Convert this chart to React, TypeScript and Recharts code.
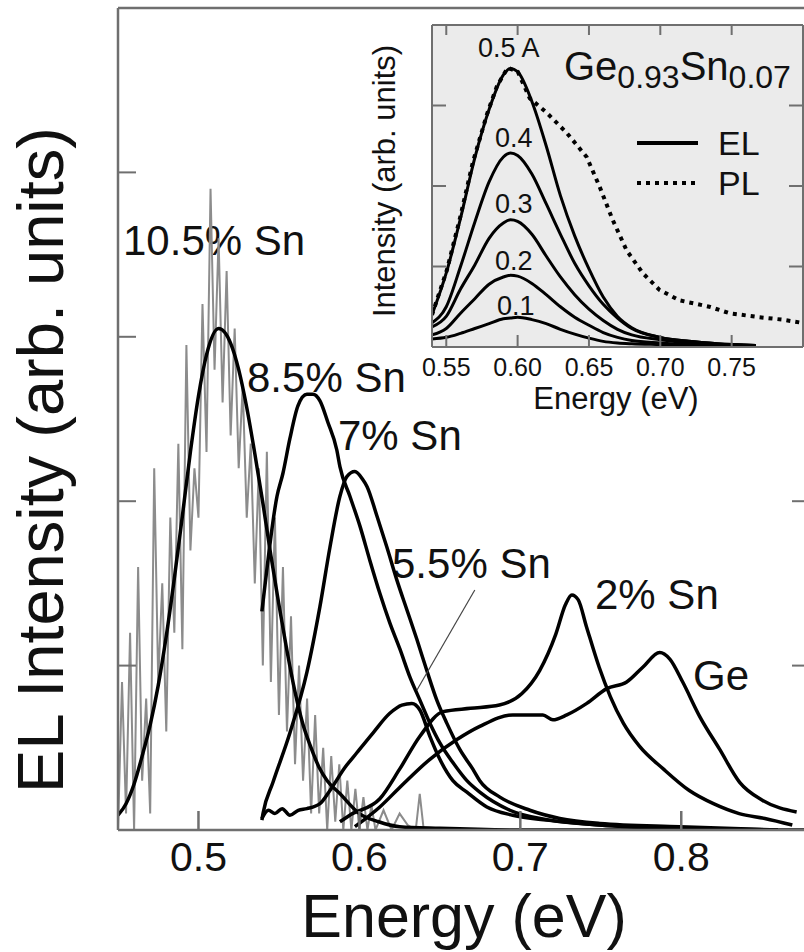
import { LineChart, Line, XAxis, YAxis, CartesianGrid, ReferenceLine } from 'recharts'

const FONT = '"Liberation Sans", Arial, Helvetica, sans-serif'
const AXIS = '#6f6f6f'

// ---- main panel: EL spectra, energy (eV) vs intensity (arb. units)
const mainTicks = [0.5, 0.6, 0.7, 0.8]
const mainYTicks = [1, 2, 3, 4]

// 10.5% Sn raw spectrum (noisy, grey)
const sn105RawE = [
  0.45, 0.4525, 0.455, 0.4575, 0.46, 0.4625, 0.465, 0.4675, 0.47, 0.4725, 0.475, 0.4775, 0.48, 0.4825,
  0.485, 0.4875, 0.49, 0.4925, 0.495, 0.4975, 0.5, 0.5025, 0.505, 0.5075, 0.51, 0.5125, 0.515, 0.5175,
  0.52, 0.5225, 0.525, 0.5275, 0.53, 0.5325, 0.535, 0.5375, 0.54, 0.5425, 0.545, 0.5475, 0.55, 0.5525,
  0.555, 0.5575, 0.56, 0.5625, 0.565, 0.5675, 0.57, 0.5725, 0.575, 0.5775, 0.58, 0.5825, 0.585, 0.5875,
  0.59, 0.5925, 0.595, 0.5975, 0.6, 0.6025, 0.605, 0.6075, 0.61, 0.615, 0.62, 0.625, 0.63, 0.635, 0.6375,
  0.64,
]
const sn105RawI = [
  0.0, 0.9, 0.1, 1.2, 0.0, 1.6, 0.3, 0.8, 0.1, 2.2, 0.9, 1.5, 0.6, 1.9,
  1.2, 2.35, 1.1, 2.95, 1.7, 2.2, 1.9, 3.2, 2.3, 3.9, 2.8, 3.6, 2.6, 3.4,
  2.4, 3.05, 2.2, 2.7, 1.9, 2.35, 1.5, 2.2, 1.0, 2.3, 0.9, 1.9, 0.7, 1.6,
  0.6, 1.3, 0.4, 1.0, 0.3, 0.8, 0.1, 0.7, 0.1, 0.5, 0.0, 0.45, 0.05, 0.4,
  0.0, 0.3, 0.0, 0.25, 0.0, 0.2, 0.0, 0.15, 0.0, 0.12, 0.0, 0.1, 0.03, 0.0, 0.22,
  0.0,
]

// 10.5% Sn fitted curve
const sn105FitE = [
  0.45, 0.455, 0.46, 0.465, 0.47, 0.475, 0.48, 0.485, 0.49, 0.495, 0.5, 0.505, 0.5125, 0.52, 0.525,
  0.53, 0.535, 0.54, 0.545, 0.55, 0.555, 0.56, 0.565, 0.57, 0.575, 0.58, 0.588, 0.6, 0.612, 0.625,
  0.65, 0.7, 0.88,
]
const sn105FitI = [
  0.09, 0.16, 0.28, 0.45, 0.64, 0.88, 1.18, 1.53, 1.91, 2.3, 2.64, 2.89, 3.05, 2.96, 2.8,
  2.57, 2.29, 1.99, 1.67, 1.37, 1.09, 0.84, 0.64, 0.5, 0.38, 0.3, 0.22, 0.1, 0.05, 0.02,
  0.01, 0.0, 0.0,
]

const sn85E = [
  0.5394, 0.5405, 0.5488, 0.5525, 0.5568, 0.5618, 0.5674, 0.5711, 0.5755, 0.5804, 0.586, 0.5879,
  0.5941, 0.6003, 0.6065, 0.6127, 0.6189, 0.6252, 0.6314, 0.6376, 0.6438, 0.65, 0.6581, 0.6668,
  0.6748, 0.6935, 0.7183, 0.7494, 0.7991, 0.86,
]
const sn85I = [
  1.33, 1.42, 2.03, 2.17, 2.38, 2.58, 2.65, 2.65, 2.61, 2.48, 2.31, 2.21,
  2.03, 1.85, 1.64, 1.44, 1.26, 1.1, 0.93, 0.79, 0.65, 0.53, 0.41, 0.3,
  0.23, 0.12, 0.06, 0.03, 0.01, 0.0,
]

const sn7E = [
  0.5394, 0.5401, 0.5463, 0.5568, 0.5674, 0.5755, 0.5817, 0.5879, 0.5922, 0.5972, 0.6022, 0.6047,
  0.6109, 0.6171, 0.6233, 0.6295, 0.6357, 0.6419, 0.6481, 0.6543, 0.6624, 0.6705, 0.6748, 0.6873,
  0.7059, 0.7245, 0.7494, 0.7991, 0.86,
]
const sn7I = [
  0.06, 0.1, 0.29, 0.59, 0.96, 1.36, 1.72, 2.03, 2.15, 2.18, 2.13, 2.09,
  1.91, 1.72, 1.52, 1.34, 1.16, 0.97, 0.79, 0.65, 0.49, 0.37, 0.3, 0.2,
  0.12, 0.07, 0.04, 0.02, 0.0,
]

const sn55E = [
  0.5394, 0.5435, 0.5475, 0.552, 0.5568, 0.562, 0.5674, 0.5755, 0.5817, 0.591, 0.5984, 0.6084,
  0.6189, 0.6264, 0.6326, 0.6376, 0.6438, 0.65, 0.6581, 0.6668, 0.6792, 0.6953, 0.7165, 0.7494,
  0.7991, 0.86,
]
const sn55I = [
  0.07, 0.12, 0.1, 0.13, 0.09, 0.12, 0.13, 0.16, 0.24, 0.38, 0.47, 0.59,
  0.71, 0.76, 0.77, 0.73, 0.57, 0.43, 0.3, 0.23, 0.14, 0.09, 0.06, 0.03,
  0.01, 0.0,
]

const sn2E = [
  0.5879, 0.594, 0.6127, 0.625, 0.6376, 0.652, 0.669, 0.687, 0.701, 0.712, 0.722, 0.728, 0.732,
  0.736, 0.741, 0.749, 0.756, 0.764, 0.774, 0.789, 0.805, 0.82, 0.836, 0.852, 0.869,
]
const sn2I = [
  0.05, 0.09, 0.19, 0.37, 0.57, 0.72, 0.74, 0.76, 0.83, 0.97, 1.19, 1.37, 1.43,
  1.4, 1.24, 0.99, 0.81, 0.65, 0.51, 0.37, 0.24, 0.16, 0.1, 0.07, 0.03,
]

const geE = [
  0.5972, 0.6127, 0.6252, 0.6438, 0.6606, 0.6748, 0.6953, 0.714, 0.7202, 0.7289, 0.7413, 0.7537,
  0.7661, 0.7761, 0.7866, 0.7929, 0.8009, 0.8115, 0.8239, 0.8363, 0.8506, 0.8717,
]
const geI = [
  0.02, 0.14, 0.26, 0.43, 0.55, 0.63, 0.7, 0.7, 0.67, 0.7, 0.77, 0.86,
  0.9, 0.99, 1.08, 1.04, 0.9, 0.69, 0.49, 0.29, 0.18, 0.11,
]

// ---- inset: Ge0.93Sn0.07 EL at several currents, and PL
const insetTicks = [0.55, 0.6, 0.65, 0.7, 0.75]
const insetYTicks = [1, 2, 3]
const elE = [
  0.54, 0.55, 0.56, 0.57, 0.58, 0.59, 0.595, 0.6, 0.61, 0.62, 0.63, 0.64, 0.65, 0.66, 0.67, 0.68,
  0.7, 0.72, 0.74, 0.767,
]
const el05 = [0.4, 0.92, 1.6, 2.35, 2.95, 3.38, 3.46, 3.42, 3.05, 2.5, 1.88, 1.38, 0.97, 0.62, 0.38, 0.24, 0.12, 0.07, 0.04, 0.02]
const el04 = [0.3, 0.5, 1.0, 1.55, 2.05, 2.36, 2.41, 2.38, 2.15, 1.78, 1.4, 1.04, 0.76, 0.53, 0.36, 0.23, 0.12, 0.07, 0.04, 0.02]
const el03 = [0.25, 0.38, 0.72, 1.02, 1.35, 1.54, 1.58, 1.56, 1.4, 1.13, 0.87, 0.65, 0.47, 0.33, 0.22, 0.15, 0.09, 0.05, 0.03, 0.02]
const el02 = [0.15, 0.23, 0.42, 0.6, 0.78, 0.87, 0.89, 0.88, 0.79, 0.65, 0.5, 0.37, 0.27, 0.18, 0.12, 0.08, 0.05, 0.03, 0.02, 0.01]
const el01 = [0.1, 0.12, 0.17, 0.23, 0.29, 0.35, 0.36, 0.37, 0.34, 0.29, 0.22, 0.16, 0.11, 0.07, 0.05, 0.04, 0.03, 0.02, 0.01, 0.01]
const elCurrents = ['0.5 A', '0.4', '0.3', '0.2', '0.1']

const plE = [
  0.54, 0.5505, 0.5596, 0.5687, 0.5785, 0.5855, 0.5931, 0.6001, 0.6085, 0.6204, 0.6344, 0.6484,
  0.6575, 0.6666, 0.6764, 0.6876, 0.6994, 0.7134, 0.7344, 0.7484, 0.7694, 0.7855, 0.7994,
]
const plI = [
  0.4, 0.96, 1.6, 2.3, 2.89, 3.24, 3.47, 3.42, 3.09, 2.91, 2.66, 2.36,
  1.99, 1.58, 1.2, 0.92, 0.71, 0.58, 0.5, 0.42, 0.37, 0.34, 0.3,
]

const rows = (es: number[], vals: number[]) => es.map((e, i) => ({ e, v: vals[i] }))

const elRows = elE.map((e, i) => ({ e, a05: el05[i], a04: el04[i], a03: el03[i], a02: el02[i], a01: el01[i] }))

const txt = { fontFamily: FONT, fill: '#111' }

// inset plot box height, used to put the matching tick on the top edge
const INSET_H = 322

function MainXTick(props: any) {
  const { x, y, payload } = props
  return (
    <g>
      <line x1={x} x2={x} y1={y} y2={y - 19} stroke={AXIS} strokeWidth={2.5} />
      <text x={x} y={y + 41} textAnchor="middle" fontSize={41} {...txt}>
        {payload.value.toFixed(1)}
      </text>
    </g>
  )
}

function LeftTick(len: number) {
  return (props: any) => {
    const { x, y } = props
    return <line x1={x} x2={x + len} y1={y} y2={y} stroke={AXIS} strokeWidth={2} />
  }
}

function RightTick(len: number) {
  return (props: any) => {
    const { x, y } = props
    return <line x1={x} x2={x - len} y1={y} y2={y} stroke={AXIS} strokeWidth={2} />
  }
}

function InsetXTick(props: any) {
  const { x, y, payload } = props
  return (
    <g>
      <line x1={x} x2={x} y1={y} y2={y - 12} stroke={AXIS} strokeWidth={2} />
      <line x1={x} x2={x} y1={y - INSET_H} y2={y - INSET_H + 10} stroke={AXIS} strokeWidth={2} />
      <text x={x} y={y + 29} textAnchor="middle" fontSize={25} {...txt}>
        {payload.value.toFixed(2)}
      </text>
    </g>
  )
}

const curve = { type: 'monotone' as const, dataKey: 'v', stroke: '#000', strokeWidth: 3.5, dot: false, activeDot: false, isAnimationActive: false }

export default function App() {
  return (
    <div style={{ position: 'relative', width: 804, height: 952, overflow: 'hidden', background: '#fff' }}>
      <style>{'body{margin:0}'}</style>

      {/* axes take 1px each, margins are reduced to match */}
      <LineChart width={812} height={952} margin={{ top: 7, right: 1, bottom: 121, left: 117 }}>
        <XAxis type="number" dataKey="e" domain={[0.45, 0.88]} ticks={mainTicks} allowDataOverflow
          height={1} tickSize={0} tickMargin={0} tickLine={false} tick={MainXTick} interval={0}
          axisLine={{ stroke: AXIS, strokeWidth: 2.5 }} />
        <XAxis xAxisId="top" orientation="top" type="number" domain={[0.45, 0.88]} allowDataOverflow
          height={1} tick={false} tickLine={false} axisLine={{ stroke: AXIS, strokeWidth: 2.5 }} />
        <YAxis type="number" domain={[0, 5]} ticks={mainYTicks} allowDataOverflow width={1}
          tickSize={0} tickMargin={0} tickLine={false} tick={LeftTick(18)} interval={0}
          axisLine={{ stroke: AXIS, strokeWidth: 2.5 }} />
        <YAxis yAxisId="right" orientation="right" type="number" domain={[0, 5]} ticks={mainYTicks}
          allowDataOverflow width={1} tickSize={0} tickMargin={0} tickLine={false} tick={RightTick(18)}
          interval={0} axisLine={{ stroke: AXIS, strokeWidth: 2.5 }} />

        <Line data={rows(sn105RawE, sn105RawI)} {...curve} type="linear" stroke="#8c8c8c" strokeWidth={2} />
        <Line data={rows(sn105FitE, sn105FitI)} {...curve} />
        <Line data={rows(sn85E, sn85I)} {...curve} />
        <Line data={rows(sn7E, sn7I)} {...curve} />
        <Line data={rows(sn55E, sn55I)} {...curve} />
        <Line data={rows(sn2E, sn2I)} {...curve} />
        <Line data={rows(geE, geI)} {...curve} />

        <ReferenceLine segment={[{ x: 0.6717, y: 1.46 }, { x: 0.6357, y: 0.85 }]} stroke="#444" strokeWidth={1.2} />

        <text x={123} y={255} fontSize={42} {...txt}>10.5% Sn</text>
        <text x={247} y={392} fontSize={42} {...txt}>8.5% Sn</text>
        <text x={338} y={450} fontSize={42} {...txt}>7% Sn</text>
        <text x={392} y={578} fontSize={42} {...txt}>5.5% Sn</text>
        <text x={595} y={609} fontSize={42} {...txt}>2% Sn</text>
        <text x={693} y={690} fontSize={42} {...txt}>Ge</text>

        <text x={464} y={937} textAnchor="middle" fontSize={61} {...txt}>Energy (eV)</text>
        <text x={63} y={460} transform="rotate(-90 63 460)" textAnchor="middle" fontSize={65} {...txt}>
          EL Intensity (arb. units)
        </text>
      </LineChart>

      <div style={{ position: 'absolute', left: 0, top: 0 }}>
        <LineChart width={812} height={420} data={elRows} margin={{ top: 24, right: 8, bottom: 72, left: 431 }}>
          <CartesianGrid fill="#ebebeb" stroke="none" horizontal={false} vertical={false} />
          <XAxis type="number" dataKey="e" domain={[0.54, 0.8]} ticks={insetTicks} allowDataOverflow
            height={1} tickSize={0} tickMargin={0} tickLine={false} tick={InsetXTick} interval={0}
            axisLine={{ stroke: AXIS, strokeWidth: 2 }} />
          <XAxis xAxisId="top" orientation="top" type="number" domain={[0.54, 0.8]} allowDataOverflow
            height={1} tick={false} tickLine={false} axisLine={{ stroke: AXIS, strokeWidth: 2 }} />
          <YAxis type="number" domain={[0, 4]} ticks={insetYTicks} allowDataOverflow width={1}
            tickSize={0} tickMargin={0} tickLine={false} tick={LeftTick(14)} interval={0}
            axisLine={{ stroke: AXIS, strokeWidth: 2 }} />
          <YAxis yAxisId="right" orientation="right" type="number" domain={[0, 4]} ticks={insetYTicks}
            allowDataOverflow width={1} tickSize={0} tickMargin={0} tickLine={false} tick={RightTick(14)}
            interval={0} axisLine={{ stroke: AXIS, strokeWidth: 2 }} />

          <Line data={rows(plE, plI)} {...curve} type="linear" strokeWidth={4} strokeDasharray="4 5" />
          {['a05', 'a04', 'a03', 'a02', 'a01'].map((k) => (
            <Line key={k} {...curve} dataKey={k} strokeWidth={3} />
          ))}

          <text x={478} y={57} fontSize={27} {...txt}>{elCurrents[0]}</text>
          <text x={495} y={147} fontSize={27} {...txt}>{elCurrents[1]}</text>
          <text x={495} y={213} fontSize={27} {...txt}>{elCurrents[2]}</text>
          <text x={495} y={270} fontSize={27} {...txt}>{elCurrents[3]}</text>
          <text x={497} y={315} fontSize={27} {...txt}>{elCurrents[4]}</text>

          <text x={564} y={80} fontSize={40} {...txt}>
            Ge<tspan fontSize={32} dy={8}>0.93</tspan><tspan dy={-8}>Sn</tspan><tspan fontSize={32} dy={8}>0.07</tspan>
          </text>

          <line x1={637} x2={698} y1={143} y2={143} stroke="#000" strokeWidth={4} />
          <text x={718} y={155} fontSize={34} {...txt}>EL</text>
          <line x1={637} x2={698} y1={183} y2={183} stroke="#000" strokeWidth={4} strokeDasharray="4 5" />
          <text x={718} y={195} fontSize={34} {...txt}>PL</text>

          <text x={616} y={409} textAnchor="middle" fontSize={31} {...txt}>Energy (eV)</text>
          <text x={395} y={181} transform="rotate(-90 395 181)" textAnchor="middle" fontSize={31} {...txt}>
            Intensity (arb. units)
          </text>
        </LineChart>
      </div>
    </div>
  )
}
